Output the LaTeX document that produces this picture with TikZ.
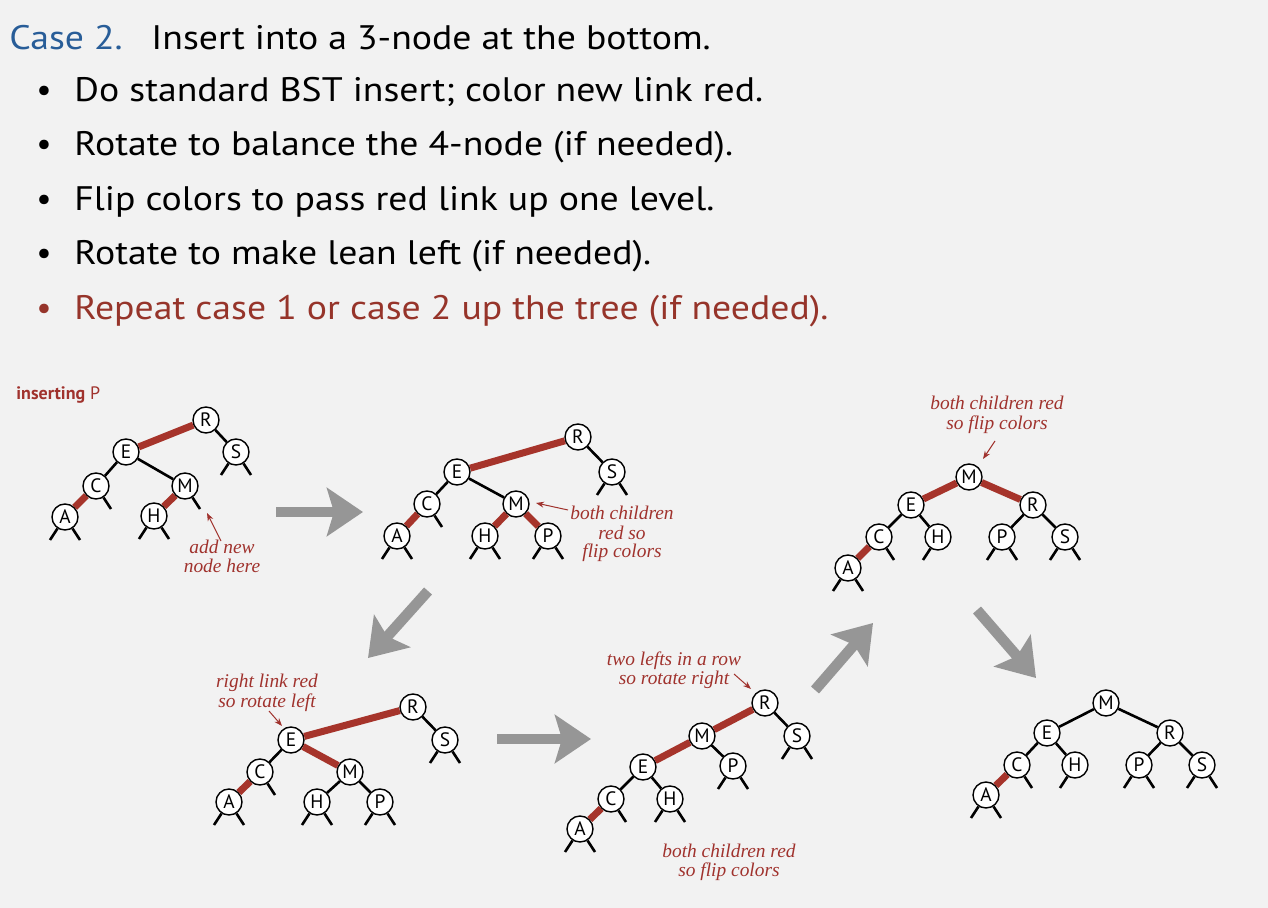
\documentclass[tikz,border=0pt]{standalone}
\usepackage{fontspec}
\setmainfont{PT Sans}
\newfontfamily\headfamily{PT Sans}[FakeStretch=1.11]
\newfontfamily\notefamily{Liberation Serif}
\usetikzlibrary{arrows.meta}

\definecolor{bgcol}{RGB}{242,242,242}
\definecolor{linkred}{RGB}{166,52,43}
\definecolor{notered}{RGB}{160,50,45}
\definecolor{casered}{RGB}{150,52,42}
\definecolor{caseblue}{RGB}{40,93,152}
\definecolor{arrowgray}{RGB}{150,150,150}

% null-link stubs hanging below a node
\newcommand\stubLeft[1]{\draw[blink] (#1) -- ++(-15,23);}
\newcommand\stubRight[1]{\draw[blink] (#1) -- ++(15,23);}
\newcommand\stubBoth[1]{\stubLeft{#1}\stubRight{#1}}

\begin{document}
\begin{tikzpicture}[x=0.5pt,y=-0.5pt,
  nd/.style={circle,draw=black,fill=white,line width=0.7pt,minimum size=13pt,
    inner sep=0pt,font=\fontsize{9.7}{10}\selectfont},
  blink/.style={line width=1.3pt,draw=black},
  rlink/.style={line width=3.5pt,draw=linkred},
  note/.style={anchor=base,inner sep=0pt,text=notered,
    font=\notefamily\itshape\fontsize{9.7}{10}\selectfont},
  notearrow/.style={line width=0.5pt,draw=notered,-{Stealth[length=4pt,width=3pt]}},
  bigarrow/.style={line width=5.3pt,draw=arrowgray,
    -{Stealth[length=18pt,width=24pt,inset=3.5pt]}},
  txt/.style={anchor=base west,inner sep=0pt,font=\headfamily\fontsize{17}{20}\selectfont},
  dot/.style={anchor=base,inner sep=0pt,font=\fontsize{17}{20}\selectfont}
]
\fill[bgcol] (0,0) rectangle (1268,908);
\useasboundingbox (0,0) rectangle (1268,908);

% ---------- heading and bullet list ----------
\node[txt,text=caseblue] (case) at (9,49.5) {Case 2.};
\node[txt] (head) at (151,49.5) {Insert into a 3-node at the bottom.};
\node[dot] (b1) at (44,101.7) {•};
\node[txt] (l1) at (74,101.7) {Do standard BST insert; color new link red.};
\node[dot] (b2) at (44,156) {•};
\node[txt] (l2) at (74,156) {Rotate to balance the 4-node (if needed).};
\node[dot] (b3) at (44,210.7) {•};
\node[txt] (l3) at (74,210.7) {Flip colors to pass red link up one level.};
\node[dot] (b4) at (44,265) {•};
\node[txt] (l4) at (74,265) {Rotate to make lean left (if needed).};
\node[dot,text=casered] (b5) at (44,319.3) {•};
\node[txt,text=casered] (l5) at (74,319.3) {Repeat case 1 or case 2 up the tree (if needed).};

\node[anchor=base west,inner sep=0pt,text=notered,font=\fontsize{9}{10}\selectfont]
  (ins) at (16,400) {\textbf{inserting} P};

% ---------- tree 1: before insertion ----------
\node[nd] (r1) at (206,420) {R};
\node[nd] (e1) at (126,452) {E};
\node[nd] (s1) at (236,452) {S};
\node[nd] (c1) at (96,486) {C};
\node[nd] (m1) at (185,486) {M};
\node[nd] (a1) at (65,517) {A};
\node[nd] (h1) at (154,516) {H};
\draw[rlink] (r1) -- (e1);
\draw[rlink] (c1) -- (a1);
\draw[rlink] (m1) -- (h1);
\draw[blink] (r1) -- (s1);
\draw[blink] (e1) -- (c1);
\draw[blink] (e1) -- (m1);
\stubBoth{a1}\stubRight{c1}\stubBoth{h1}\stubRight{m1}\stubBoth{s1}
\node[note] (n1a) at (222,553) {add new};
\node[note] (n1b) at (222,573) {node here};
\coordinate (t1) at (221,541);
\coordinate (p1) at (207,513);
\draw[notearrow] (t1) -- (p1);

% ---------- tree 2: P added below M ----------
\node[nd] (r2) at (578,437) {R};
\node[nd] (e2) at (457,472) {E};
\node[nd] (s2) at (612,472) {S};
\node[nd] (c2) at (427,504) {C};
\node[nd] (m2) at (516,504) {M};
\node[nd] (a2) at (397,536) {A};
\node[nd] (h2) at (485,536) {H};
\node[nd] (p2) at (548,536) {P};
\draw[rlink] (r2) -- (e2);
\draw[rlink] (c2) -- (a2);
\draw[rlink] (m2) -- (h2);
\draw[rlink] (m2) -- (p2);
\draw[blink] (r2) -- (s2);
\draw[blink] (e2) -- (c2);
\draw[blink] (e2) -- (m2);
\stubBoth{a2}\stubRight{c2}\stubBoth{h2}\stubBoth{p2}\stubBoth{s2}
\node[note] (n2a) at (622,520) {both children};
\node[note] (n2b) at (622,539) {red so};
\node[note] (n2c) at (622,558) {flip colors};
\coordinate (t2) at (568,510);
\coordinate (p2tip) at (536,503);
\draw[notearrow] (t2) -- (p2tip);

% ---------- tree 3: after flipping colors ----------
\node[nd] (r3) at (413,707) {R};
\node[nd] (e3) at (291,740) {E};
\node[nd] (s3) at (445,740) {S};
\node[nd] (c3) at (260,772) {C};
\node[nd] (m3) at (350,772) {M};
\node[nd] (a3) at (229,802) {A};
\node[nd] (h3) at (317,802) {H};
\node[nd] (p3) at (380,802) {P};
\draw[rlink] (r3) -- (e3);
\draw[rlink] (e3) -- (m3);
\draw[rlink] (c3) -- (a3);
\draw[blink] (r3) -- (s3);
\draw[blink] (e3) -- (c3);
\draw[blink] (m3) -- (h3);
\draw[blink] (m3) -- (p3);
\stubBoth{a3}\stubRight{c3}\stubBoth{h3}\stubBoth{p3}\stubBoth{s3}
\node[note] (n3a) at (267,687) {right link red};
\node[note] (n3b) at (267,707) {so rotate left};
\coordinate (t3) at (269,711);
\coordinate (p3tip) at (282,726);
\draw[notearrow] (t3) -- (p3tip);

% ---------- tree 4: after left rotation ----------
\node[nd] (r4) at (765,703) {R};
\node[nd] (m4) at (702,736) {M};
\node[nd] (s4) at (797,736) {S};
\node[nd] (e4) at (643,767) {E};
\node[nd] (p4) at (733,766) {P};
\node[nd] (c4) at (611,799) {C};
\node[nd] (h4) at (670,799) {H};
\node[nd] (a4) at (580,829) {A};
\draw[rlink] (r4) -- (m4);
\draw[rlink] (m4) -- (e4);
\draw[rlink] (c4) -- (a4);
\draw[blink] (r4) -- (s4);
\draw[blink] (m4) -- (p4);
\draw[blink] (e4) -- (c4);
\draw[blink] (e4) -- (h4);
\stubBoth{a4}\stubRight{c4}\stubBoth{h4}\stubBoth{p4}\stubBoth{s4}
\node[note] (n4a) at (674,665) {two lefts in a row};
\node[note] (n4b) at (674,684) {so rotate right};
\coordinate (t4) at (734,674);
\coordinate (p4tip) at (751,689);
\draw[notearrow] (t4) -- (p4tip);
\node[note] (n4c) at (729,857) {both children red};
\node[note] (n4d) at (729,876) {so flip colors};

% ---------- tree 5: after right rotation ----------
\node[nd] (m5) at (969,477) {M};
\node[nd] (e5) at (911,505) {E};
\node[nd] (r5) at (1033,505) {R};
\node[nd] (c5) at (879,537) {C};
\node[nd] (h5) at (938,537) {H};
\node[nd] (p5) at (1002,537) {P};
\node[nd] (s5) at (1065,537) {S};
\node[nd] (a5) at (848,568) {A};
\draw[rlink] (m5) -- (e5);
\draw[rlink] (m5) -- (r5);
\draw[rlink] (c5) -- (a5);
\draw[blink] (e5) -- (c5);
\draw[blink] (e5) -- (h5);
\draw[blink] (r5) -- (p5);
\draw[blink] (r5) -- (s5);
\stubBoth{a5}\stubRight{c5}\stubLeft{h5}\stubBoth{p5}\stubBoth{s5}
\node[note] (n5a) at (997,410) {both children red};
\node[note] (n5b) at (997,430) {so flip colors};
\coordinate (t5) at (995,441);
\coordinate (p5tip) at (983,459);
\draw[notearrow] (t5) -- (p5tip);

% ---------- tree 6: final tree ----------
\node[nd] (m6) at (1106,703) {M};
\node[nd] (e6) at (1047,733) {E};
\node[nd] (r6) at (1170,733) {R};
\node[nd] (c6) at (1017,765) {C};
\node[nd] (h6) at (1075,765) {H};
\node[nd] (p6) at (1139,765) {P};
\node[nd] (s6) at (1202,765) {S};
\node[nd] (a6) at (986,795) {A};
\draw[rlink] (c6) -- (a6);
\draw[blink] (m6) -- (e6);
\draw[blink] (m6) -- (r6);
\draw[blink] (e6) -- (c6);
\draw[blink] (e6) -- (h6);
\draw[blink] (r6) -- (p6);
\draw[blink] (r6) -- (s6);
\stubBoth{a6}\stubRight{c6}\stubLeft{h6}\stubBoth{p6}\stubBoth{s6}

% ---------- step arrows between trees ----------
\coordinate (g1a) at (276,512);  \coordinate (g1b) at (363,512);
\coordinate (g2a) at (428,591);  \coordinate (g2b) at (368,658);
\coordinate (g3a) at (497,739);  \coordinate (g3b) at (591,739);
\coordinate (g4a) at (815,690);  \coordinate (g4b) at (873,623);
\coordinate (g5a) at (977,610);  \coordinate (g5b) at (1036,678);
\draw[bigarrow] (g1a) -- (g1b);
\draw[bigarrow] (g2a) -- (g2b);
\draw[bigarrow] (g3a) -- (g3b);
\draw[bigarrow] (g4a) -- (g4b);
\draw[bigarrow] (g5a) -- (g5b);
\end{tikzpicture}
\end{document}
